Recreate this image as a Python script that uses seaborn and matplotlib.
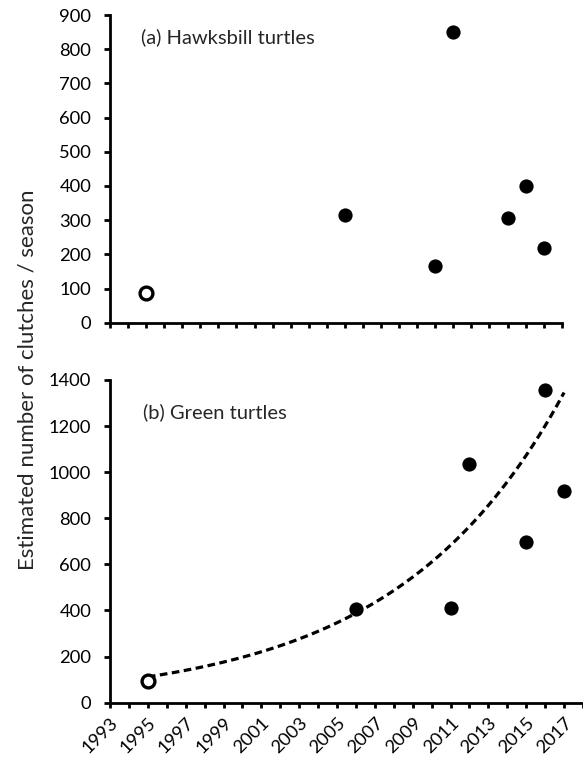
import numpy as np
import pandas as pd
import matplotlib
matplotlib.use("Agg")
import matplotlib.pyplot as plt
import seaborn as sns

# ---- data ----
hawk_years = [1995, 2006, 2011, 2012, 2015, 2016, 2017]
hawk_clutches = [88, 315, 165, 850, 307, 399, 220]
hawk_open = [True, False, False, False, False, False, False]

green_years = [1995, 2006, 2011, 2012, 2015, 2016, 2017]
green_clutches = [95, 405, 411, 1037, 697, 1356, 920]
green_open = [True, False, False, False, False, False, False]

# exponential trend line (as drawn in the reference)
trend_years = [1995, 2017]
trend_a = 112.0
trend_rate = 0.113

xtick_labels = [str(y) for y in range(1993, 2018, 2)]
top_yticks = list(range(0, 901, 100))
bottom_yticks = list(range(0, 1401, 200))

panel_a_title = "(a) Hawksbill turtles"
panel_b_title = "(b) Green turtles"
ylabel = "Estimated number of clutches / season"

# ---- style ----
sns.set_style("ticks")
plt.rcParams["font.family"] = ["Lato", "DejaVu Sans"]
FS_TICK = 13.2
FS_XTICK = 13.2
FS_ANN = 14.5
FS_LAB = 16

fig = plt.figure(figsize=(5.83, 7.59), dpi=100)
ax1 = fig.add_axes([0.1887, 0.5748, 0.7748, 0.4054])
ax2 = fig.add_axes([0.1887, 0.0742, 0.8113, 0.4252])

df_h = pd.DataFrame({"year": hawk_years, "n": hawk_clutches, "open": hawk_open})
df_g = pd.DataFrame({"year": green_years, "n": green_clutches, "open": green_open})

def draw_points(ax, df):
    filled = df[~df["open"]]
    hollow = df[df["open"]]
    sns.scatterplot(data=filled, x="year", y="n", ax=ax, s=105, color="black",
                    edgecolor="black", linewidth=0, clip_on=False, zorder=4)
    sns.scatterplot(data=hollow, x="year", y="n", ax=ax, s=85, facecolor="white",
                    edgecolor="black", linewidth=2.4, clip_on=False, zorder=4)

draw_points(ax1, df_h)

t = np.linspace(trend_years[0], trend_years[1], 200)
df_t = pd.DataFrame({"year": t, "n": trend_a * np.exp(trend_rate * (t - trend_years[0]))})
sns.lineplot(data=df_t, x="year", y="n", ax=ax2, color="black", lw=2.3,
             linestyle=(0, (2.4, 1.4)), zorder=3)
draw_points(ax2, df_g)

years_all = list(range(1993, 2019))
for ax, ylim, yt in [(ax1, (0, 900), top_yticks), (ax2, (0, 1400), bottom_yticks)]:
    ax.set_ylim(*ylim)
    ax.set_yticks(yt)
    ax.set_xlim(1993, 2018)
    ax.set_xticks(years_all)
    ax.set_xlabel("")
    ax.set_ylabel("")
    sns.despine(ax=ax)
    for sp in ["left", "bottom"]:
        ax.spines[sp].set_linewidth(2.0)
        ax.spines[sp].set_color("black")
    ax.tick_params(axis="y", direction="out", length=4.5, width=2.0,
                   labelsize=FS_TICK, pad=9, colors="black")
    ax.tick_params(axis="x", direction="out", length=3.5, width=2.0,
                   labelsize=FS_XTICK, pad=5, colors="black")

ax1.set_xticklabels([])

lab_map = {int(s): s for s in xtick_labels}
ax2.set_xticklabels([lab_map.get(y, "") for y in years_all])
for lbl in ax2.get_xticklabels():
    lbl.set_rotation(45)
    lbl.set_ha("right")
    lbl.set_va("top")
    lbl.set_rotation_mode("anchor")

ax1.text(1994.7, 834, panel_a_title, fontsize=FS_ANN, ha="left", va="center")
ax2.text(1994.73, 1262, panel_b_title, fontsize=FS_ANN, ha="left", va="center")

fig.text(0.048, 0.50, ylabel, rotation=90, ha="center", va="center", fontsize=FS_LAB)

fig.savefig("out.png", dpi=100)
